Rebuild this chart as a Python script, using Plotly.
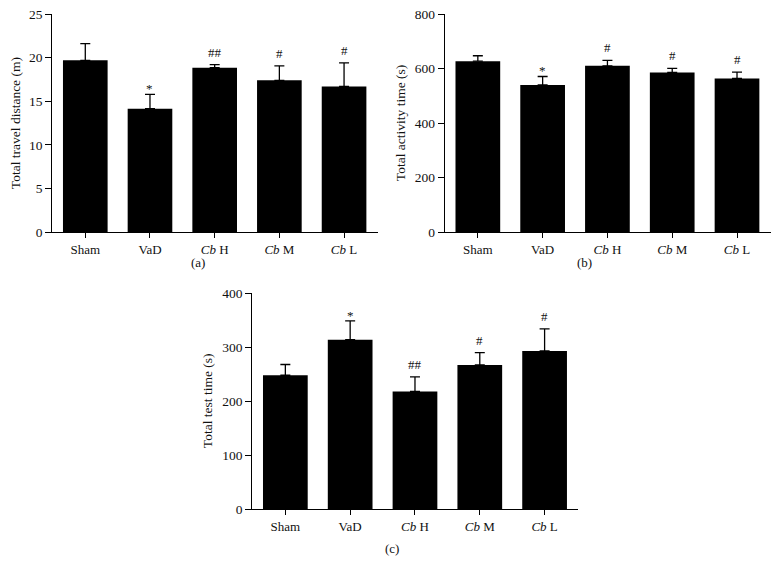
import plotly.graph_objects as go

GROUPS = ["Sham", "VaD", "<i>Cb</i> H", "<i>Cb</i> M", "<i>Cb</i> L"]

# (a) total travel distance (m)
DIST_MEAN = [19.7, 14.15, 18.85, 17.4, 16.7]
DIST_ERR  = [1.9, 1.65, 0.35, 1.65, 2.7]
DIST_SIG  = ["", "*", "##", "#", "#"]

# (b) total activity time (s)
ACT_MEAN = [627, 540, 610, 586, 564]
ACT_ERR  = [20, 31, 20, 15, 23]
ACT_SIG  = ["", "*", "#", "#", "#"]

# (c) total test time (s)
TEST_MEAN = [248, 314, 218, 267, 293]
TEST_ERR  = [20, 35, 27, 23, 41]
TEST_SIG  = ["", "*", "##", "#", "#"]

FONT = "Liberation Serif"
W, H = 779, 562
OFF = 8  # page body margin

panels = [
    # mean, err, sig, y range, dtick, y title, x px, y px, title x px, label x px, label y px
    (DIST_MEAN, DIST_ERR, DIST_SIG, [0, 25], 5, "Total travel distance (m)",
     [52.3, 377.7], [14, 232.3], 15, 198, 262),
    (ACT_MEAN, ACT_ERR, ACT_SIG, [0, 800], 200, "Total activity time (s)",
     [444.8, 770.7], [14, 232.3], 400, 584, 262),
    (TEST_MEAN, TEST_ERR, TEST_SIG, [0, 400], 100, "Total test time (s)",
     [252.3, 578.3], [293.3, 509], 207, 392, 548),
]


def px_x(v):
    return (v - OFF) / W


def px_y(v):
    return 1 - (v - OFF) / H


fig = go.Figure()
annotations = []

for i, (mean, err, sig, yr, dt, ytitle, xd, yd, tx, lx, ly) in enumerate(panels, start=1):
    suffix = "" if i == 1 else str(i)
    fig.add_trace(go.Bar(
        x=GROUPS, y=mean,
        marker=dict(color="black", line=dict(width=0)),
        width=0.69,
        error_y=dict(type="data", array=err, arrayminus=[0] * len(err),
                     symmetric=False, color="black", thickness=1.3, width=5),
        xaxis="x" + suffix, yaxis="y" + suffix,
        showlegend=False,
    ))
    fig.update_layout(**{
        "xaxis" + suffix: dict(
            domain=[px_x(xd[0]), px_x(xd[1])], anchor="y" + suffix,
            type="category", categoryorder="array", categoryarray=GROUPS,
            range=[-0.51, 4.52], automargin=False, ticklabeloverflow="allow",
            showline=True, linecolor="black", linewidth=1.3,
            ticks="outside", ticklen=5, tickwidth=1.3, tickcolor="black",
            showgrid=False, zeroline=False,
            tickfont=dict(family=FONT, size=13, color="#111"),
        ),
        "yaxis" + suffix: dict(
            domain=[px_y(yd[1]), px_y(yd[0])], anchor="x" + suffix,
            range=yr, dtick=dt, automargin=False, ticklabeloverflow="allow",
            showline=True, linecolor="black", linewidth=1.3,
            ticks="outside", ticklen=6, tickwidth=1.3, tickcolor="black",
            showgrid=False, zeroline=False,
            tickfont=dict(family=FONT, size=13.5, color="#111"),
        ),
    })
    # significance marks above error bars
    for g, m, e, s in zip(GROUPS, mean, err, sig):
        if s:
            annotations.append(dict(
                x=g, y=m + e, xref="x" + suffix, yref="y" + suffix,
                text=s, showarrow=False, yanchor="bottom",
                yshift=-4 if s == "*" else 3,
                font=dict(family=FONT, size=13, color="#111"),
            ))
    # y axis title
    annotations.append(dict(
        x=px_x(tx), y=px_y((yd[0] + yd[1]) / 2), xref="paper", yref="paper",
        text=ytitle, textangle=-90, showarrow=False,
        xanchor="center", yanchor="middle",
        font=dict(family=FONT, size=13.5, color="#111"),
    ))
    # panel label
    annotations.append(dict(
        x=px_x(lx), y=px_y(ly), xref="paper", yref="paper",
        text="(" + "abc"[i - 1] + ")", showarrow=False,
        xanchor="center", yanchor="middle",
        font=dict(family=FONT, size=13, color="#111"),
    ))

fig.update_layout(
    width=W, height=H,
    margin=dict(l=0, r=0, t=0, b=0, autoexpand=False),
    paper_bgcolor="white", plot_bgcolor="white",
    annotations=annotations,
    bargap=0.31,
)

fig.write_html("out.html")
